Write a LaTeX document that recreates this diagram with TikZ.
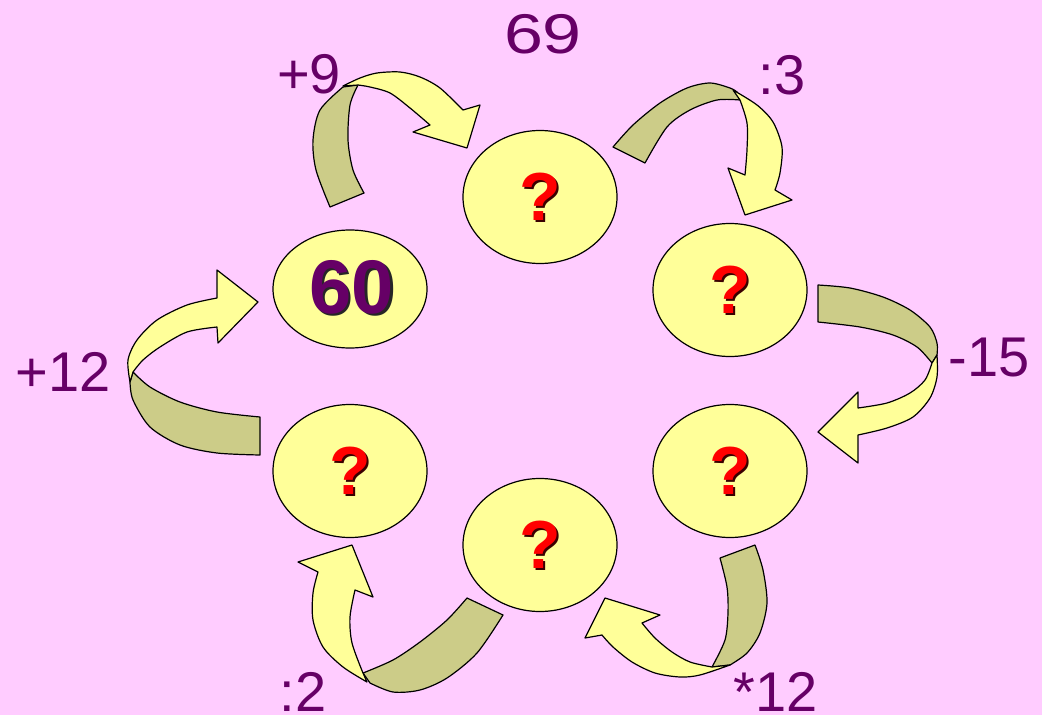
\documentclass[tikz,border=0pt]{standalone}
\usepackage{fontspec}
\setmainfont{Liberation Sans}
\usetikzlibrary{shapes.geometric}
\definecolor{bg}{HTML}{FFCCFF}
\definecolor{yel}{HTML}{FFFF99}
\definecolor{oli}{HTML}{CCCC88}
\definecolor{lab}{HTML}{660066}
\definecolor{qred}{HTML}{FF0000}
\definecolor{qsh}{HTML}{3A0000}
\begin{document}
\begin{tikzpicture}[x=1pt,y=-1pt,
  bubble/.style={ellipse, draw=black, line width=1.2pt, fill=yel, minimum width=154pt, minimum height=133pt, inner sep=0pt},
  front/.style={fill=yel, draw=black, line width=1.2pt, line join=round},
  back/.style={fill=oli, draw=black, line width=1.2pt, line join=round},
  lbl/.style={text=lab, font=\fontsize{56}{60}\selectfont, inner sep=0pt},
  qm/.style={font=\bfseries\fontsize{68}{70}\selectfont, inner sep=0pt, text=qred},
  qmsh/.style={font=\bfseries\fontsize{68}{70}\selectfont, inner sep=0pt, text=qsh, xshift=2.2pt, yshift=-2.2pt}]
\fill[bg] (0,0) rectangle (1042,715);
\useasboundingbox (0,0) rectangle (1042,715);

% arrow +9 (60 -> top)
\path[back] plot[smooth] coordinates {(330,207) (316,170) (313,140) (320,110) (343,87)}
  -- plot[smooth] coordinates {(358,85) (350,105) (348,140) (353,170) (364,193)} -- cycle;
\path[front] plot[smooth] coordinates {(343,86) (360,78) (377,73) (400,72) (420,77) (440,88) (463,110)}
  -- (480,105) -- (467,148) -- (413,132) -- (430,125)
  -- plot[smooth] coordinates {(430,125) (410,108) (390,93) (370,87) (358,85)} -- cycle;

% arrow :3 (top -> upper right)
\path[back] plot[smooth] coordinates {(613,147) (633,125) (660,103) (687,88) (710,83) (730,88) (737,92)}
  -- plot[smooth] coordinates {(740,100) (717,100) (690,110) (667,127) (645,163)} -- cycle;
\path[front] plot[smooth] coordinates {(733,90) (757,105) (773,122) (782,147) (780,173) (775,190)}
  -- (792,200) -- (745,215) -- (728,168) -- (745,175)
  -- plot[smooth] coordinates {(745,175) (747,150) (747,123) (740,100)} -- cycle;

% arrow -15 (upper right -> lower right)
\path[back] plot[smooth] coordinates {(818,285) (850,288) (883,297) (910,310) (930,327) (937,343) (937,355)}
  -- plot[smooth] coordinates {(932,363) (917,347) (893,335) (860,327) (818,322)} -- cycle;
\path[front] plot[smooth] coordinates {(937,355) (937,377) (930,398) (913,417) (887,428) (858,435)}
  -- (858,463) -- (818,432) -- (858,392) -- (858,408)
  -- plot[smooth] coordinates {(858,408) (887,403) (910,393) (925,380) (932,363)} -- cycle;

% arrow *12 (lower right -> bottom)
\path[back] plot[smooth] coordinates {(720,558) (727,587) (728,613) (725,640) (712,667)}
  -- plot[smooth] coordinates {(730,665) (747,653) (760,633) (767,603) (763,570) (755,545)} -- cycle;
\path[front] plot[smooth] coordinates {(730,665) (700,675) (680,677) (655,673) (632,662) (613,647) (602,635)}
  -- (585,638) -- (605,598) -- (660,615) -- (642,623)
  -- plot[smooth] coordinates {(642,623) (655,638) (672,652) (690,662) (712,667)} -- cycle;

% arrow :2 (bottom -> lower left)
\path[back] plot[smooth] coordinates {(467,598) (447,620) (420,642) (393,660) (363,673)}
  -- plot[smooth] coordinates {(370,683) (393,692) (420,690) (447,678) (477,653) (503,615)} -- cycle;
\path[front] plot[smooth] coordinates {(367,682) (343,667) (323,647) (313,620) (313,593) (318,572)}
  -- (298,562) -- (352,545) -- (373,597) -- (355,590)
  -- plot[smooth] coordinates {(355,590) (350,617) (352,643) (363,673)} -- cycle;

% arrow +12 (lower left -> 60)
\path[back] plot[smooth] coordinates {(260,417) (217,412) (180,402) (150,387) (133,372)}
  -- plot[smooth] coordinates {(130,382) (133,400) (150,427) (180,445) (217,453) (260,455)} -- cycle;
\path[front] plot[smooth] coordinates {(130,382) (128,360) (137,340) (157,320) (187,305) (217,298)}
  -- (217,270) -- (258,302) -- (218,343) -- (217,327)
  -- plot[smooth] coordinates {(217,327) (187,332) (160,347) (143,360) (133,372)} -- cycle;

% bubbles
\node[bubble] (top) at (540,197) {};
\node[bubble] (ur) at (730,290) {};
\node[bubble] (lr) at (730,471) {};
\node[bubble] (bot) at (540,545) {};
\node[bubble] (ll) at (350,471) {};
\node[bubble, minimum height=118pt] (sixty) at (350,289) {};

\foreach \n in {top,ur,lr,bot,ll}{
  \node[qmsh] at (\n) {?};
  \node[qm] at (\n) {?};
}
\node[font=\bfseries\fontsize{76}{80}\selectfont, inner sep=0pt, text=black!85, xshift=2.2pt, yshift=-2.2pt] at (352,287) {60};
\node[font=\bfseries\fontsize{76}{80}\selectfont, inner sep=0pt, text=lab] (sixtytxt) at (352,287) {60};

% labels
\node[lbl, xscale=1.25] (l69) at (543,34) {69};
\node[lbl] (lp9) at (309,74) {+9};
\node[lbl] (ld3) at (782,75) {:3};
\node[lbl] (lm15) at (989,358) {-15};
\node[lbl] (lt12) at (776,692) {*12};
\node[lbl] (ld2) at (303,692) {:2};
\node[lbl] (lp12) at (63,372) {+12};
\end{tikzpicture}
\end{document}
